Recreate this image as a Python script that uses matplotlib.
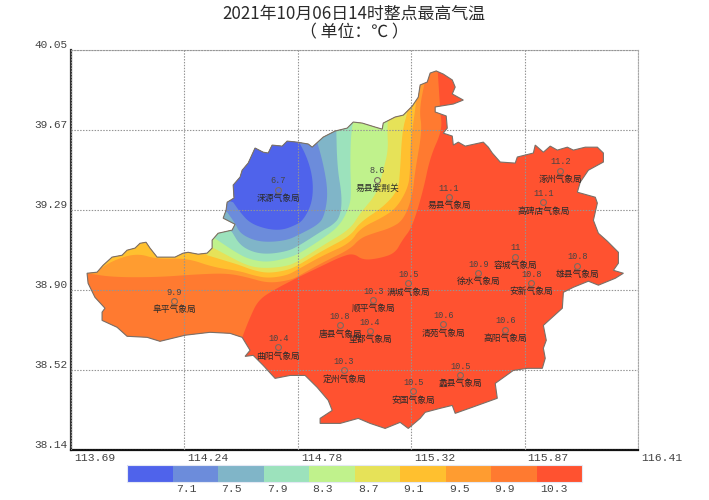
import numpy as np
import matplotlib
matplotlib.use("Agg")
import matplotlib.pyplot as plt
from matplotlib.colors import ListedColormap, BoundaryNorm
from matplotlib.cm import ScalarMappable
from matplotlib.patches import Polygon
from matplotlib.transforms import ScaledTranslation

CJK = ['Noto Sans CJK SC', 'DejaVu Sans']
plt.rcParams['font.family'] = CJK

title_line1 = "2021年10月06日14时整点最高气温"
title_line2 = "（ 单位：℃ ）"

lon_ticklabels = ["113.69", "114.24", "114.78", "115.32", "115.87", "116.41"]
lat_ticklabels = ["38.14", "38.52", "38.90", "39.29", "39.67", "40.05"]

levels = [6.7, 7.1, 7.5, 7.9, 8.3, 8.7, 9.1, 9.5, 9.9, 10.3, 10.7]
level_labels = ["7.1", "7.5", "7.9", "8.3", "8.7", "9.1", "9.5", "9.9", "10.3"]
colors = ["#4F63EB", "#6C8CDB", "#80B5C8", "#9CE2BC", "#C0F28C",
          "#E6E258", "#FFC02F", "#FF9C30", "#FF7A30", "#FF5230"]

station_names = ["涞源气象局", "易县紫荆关", "易县气象局", "涿州气象局", "高碑店气象局",
                 "容城气象局", "雄县气象局", "徐水气象局", "安新气象局", "满城气象局",
                 "顺平气象局", "唐县气象局", "望都气象局", "清苑气象局", "高阳气象局",
                 "曲阳气象局", "定州气象局", "蠡县气象局", "安国气象局", "阜平气象局"]
station_temp = ["6.7", "8.6", "11.1", "11.2", "11.1", "11", "10.8", "10.9", "10.8", "10.5",
                "10.3", "10.8", "10.4", "10.6", "10.6", "10.4", "10.3", "10.5", "10.5", "9.9"]
station_lon = [114.684, 115.159, 115.504, 116.037, 115.956, 115.821, 116.119, 115.644, 115.898, 115.308,
               115.140, 114.981, 115.125, 115.476, 115.773, 114.684, 115.000, 115.557, 115.332, 114.184]
station_lat = [39.381, 39.429, 39.347, 39.472, 39.323, 39.061, 39.018, 38.984, 38.936, 38.936,
               38.855, 38.735, 38.707, 38.740, 38.712, 38.630, 38.520, 38.496, 38.420, 38.850]

outline_lon = [113.767,113.815,113.844,113.887,113.935,113.959,113.997,114.021,114.050,114.069,
    114.103,114.151,114.189,114.228,114.252,114.300,114.343,114.367,114.367,114.396,
    114.463,114.477,114.420,114.434,114.439,114.472,114.468,114.501,114.511,114.540,
    114.573,114.612,114.636,114.655,114.703,114.727,114.775,114.828,114.847,114.900,
    114.957,115.015,115.044,115.087,115.149,115.183,115.188,115.245,115.284,115.327,
    115.356,115.365,115.399,115.413,115.442,115.476,115.519,115.533,115.519,115.572,
    115.524,115.437,115.437,115.490,115.495,115.476,115.519,115.524,115.548,115.581,
    115.668,115.692,115.711,115.749,115.821,115.831,115.908,115.917,115.956,115.989,
    116.023,116.071,116.100,116.157,116.215,116.244,116.244,116.172,116.133,116.119,
    116.205,116.215,116.196,116.220,116.263,116.316,116.316,116.292,116.340,116.301,
    116.220,116.172,116.100,116.052,116.047,115.956,115.970,115.956,115.965,115.951,
    115.879,115.812,115.725,115.735,115.668,115.615,115.533,115.519,115.461,115.389,
    115.365,115.308,115.269,115.197,115.125,115.068,114.981,114.885,114.885,114.943,
    114.924,114.871,114.813,114.741,114.669,114.612,114.564,114.525,114.549,114.511,
    114.453,114.357,114.237,114.117,114.055,113.959,113.911,113.839,113.839,113.853,
    113.805,113.772]
outline_lat = [38.984,38.989,39.022,39.061,39.070,39.094,39.104,39.127,39.132,39.104,
    39.061,39.061,39.061,39.080,39.084,39.075,39.080,39.104,39.142,39.175,
    39.190,39.218,39.247,39.285,39.323,39.343,39.405,39.443,39.476,39.510,
    39.582,39.562,39.558,39.596,39.591,39.615,39.610,39.601,39.586,39.634,
    39.663,39.677,39.706,39.701,39.682,39.672,39.701,39.730,39.739,39.782,
    39.825,39.883,39.897,39.940,39.950,39.935,39.907,39.873,39.840,39.811,
    39.792,39.778,39.754,39.735,39.677,39.653,39.639,39.596,39.610,39.591,
    39.610,39.586,39.558,39.515,39.510,39.539,39.558,39.596,39.562,39.591,
    39.572,39.586,39.572,39.586,39.586,39.558,39.515,39.476,39.419,39.371,
    39.347,39.319,39.237,39.175,39.137,39.084,39.032,38.998,38.984,38.960,
    38.927,38.946,38.917,38.893,38.817,38.735,38.664,38.626,38.578,38.530,
    38.530,38.520,38.458,38.387,38.363,38.344,38.315,38.353,38.339,38.320,
    38.291,38.243,38.272,38.243,38.267,38.291,38.267,38.267,38.291,38.329,
    38.377,38.439,38.496,38.496,38.482,38.544,38.592,38.587,38.616,38.678,
    38.697,38.702,38.688,38.659,38.678,38.683,38.726,38.759,38.798,38.817,
    38.869,38.936]

# Isotherm curves, each followed by the points that close its cold side
iso_103_lon = [115.447,115.452,115.461,115.471,115.413,115.380,115.327,115.279,115.245,115.173,115.092,115.044,114.981,114.900,114.780,114.660,114.588,114.549,114.511,114.501]
iso_103_lat = [39.978,39.907,39.763,39.668,39.539,39.381,39.204,39.142,39.080,39.056,39.046,39.080,39.061,39.022,38.965,38.903,38.855,38.774,38.678,38.640]
iso_103_close = [(113.733, 38.640), (113.733, 39.978)]

iso_99_lon = [115.389,115.360,115.375,115.341,115.327,115.284,115.221,115.140,115.077,115.029,114.900,114.780,114.741,114.636,114.535,114.439,114.295,114.103,113.892,113.767,113.733]
iso_99_lat = [39.907,39.763,39.668,39.476,39.347,39.237,39.199,39.175,39.151,39.099,39.037,38.970,38.951,38.936,38.965,38.984,38.979,38.965,38.965,38.984,38.984]
iso_99_close = [(113.733, 39.978)]

iso_95_lon = [115.351,115.341,115.327,115.317,115.317,115.308,115.255,115.188,115.077,115.029,114.900,114.780,114.727,114.636,114.564,114.501,114.372,114.247,114.103,114.007,113.892,113.805,113.757]
iso_95_lat = [39.859,39.763,39.668,39.572,39.476,39.395,39.300,39.252,39.199,39.127,39.070,39.003,38.974,38.960,38.974,38.994,39.013,39.056,39.051,39.080,39.046,38.989,38.989]
iso_95_close = [(113.757, 39.978)]

iso_91_lon = [115.293,115.308,115.279,115.269,115.260,115.188,115.077,115.029,114.900,114.780,114.727,114.636,114.564,114.501,114.453,114.343]
iso_91_lat = [39.811,39.763,39.668,39.476,39.381,39.300,39.228,39.161,39.094,39.022,38.998,38.984,38.998,39.022,39.037,39.070]
iso_91_close = [(114.285, 39.142), (114.285, 39.811)]

iso_87_lon = [115.212,115.207,115.212,115.188,115.159,115.077,115.029,114.900,114.780,114.727,114.636,114.564,114.501,114.439,114.367]
iso_87_lat = [39.739,39.668,39.572,39.476,39.366,39.271,39.194,39.118,39.041,39.018,39.008,39.013,39.037,39.070,39.108]
iso_87_close = [(114.309, 39.142), (114.309, 39.811)]

iso_83_lon = [115.053,115.034,115.029,115.034,115.029,114.981,114.900,114.780,114.727,114.636,114.564,114.501,114.372]
iso_83_lat = [39.739,39.668,39.510,39.381,39.309,39.213,39.151,39.075,39.056,39.037,39.046,39.070,39.156]
iso_83_close = [(114.333, 39.190), (114.333, 39.811)]

iso_79_lon = [114.962,114.967,114.991,114.981,114.943,114.900,114.780,114.727,114.636,114.564,114.501,114.463]
iso_79_lat = [39.691,39.491,39.347,39.252,39.213,39.190,39.113,39.089,39.075,39.084,39.118,39.180]
iso_79_close = [(114.357, 39.261), (114.357, 39.763)]

iso_75_lon = [114.861,114.900,114.924,114.904,114.871,114.780,114.727,114.636,114.564,114.501,114.477,114.439]
iso_75_lat = [39.644,39.510,39.366,39.252,39.213,39.166,39.142,39.132,39.142,39.175,39.223,39.276]
iso_75_close = [(114.333, 39.309), (114.333, 39.715)]

iso_71_lon = [114.765,114.823,114.852,114.847,114.804,114.765,114.703,114.631,114.549,114.501,114.468]
iso_71_lat = [39.644,39.539,39.429,39.319,39.237,39.213,39.190,39.194,39.223,39.276,39.323]
iso_71_close = [(114.357, 39.357), (114.357, 39.691), (114.693, 39.691)]

isotherms = [
    (iso_103_lon, iso_103_lat, iso_103_close, colors[8]),
    (iso_99_lon, iso_99_lat, iso_99_close, colors[7]),
    (iso_95_lon, iso_95_lat, iso_95_close, colors[6]),
    (iso_91_lon, iso_91_lat, iso_91_close, colors[5]),
    (iso_87_lon, iso_87_lat, iso_87_close, colors[4]),
    (iso_83_lon, iso_83_lat, iso_83_close, colors[3]),
    (iso_79_lon, iso_79_lat, iso_79_close, colors[2]),
    (iso_75_lon, iso_75_lat, iso_75_close, colors[1]),
    (iso_71_lon, iso_71_lat, iso_71_close, colors[0]),
]


def rounded(xs, ys, passes=3):
    p = np.column_stack([xs, ys])
    for _ in range(passes):
        q = 0.75 * p[:-1] + 0.25 * p[1:]
        r = 0.25 * p[:-1] + 0.75 * p[1:]
        mid = np.empty((len(q) * 2, 2))
        mid[0::2], mid[1::2] = q, r
        p = np.vstack([p[0], mid, p[-1]])
    return p


W, H = 709, 500
fig = plt.figure(figsize=(W / 100, H / 100), dpi=100, facecolor="white")
ax = fig.add_axes([71 / W, 1 - 450 / H, 567 / W, 400 / H])
ax.set_xlim(113.69, 116.41)
ax.set_ylim(38.14, 40.05)

region = Polygon(np.column_stack([outline_lon, outline_lat]), closed=True,
                 facecolor=colors[9], edgecolor="none", zorder=1)
ax.add_patch(region)

for xs, ys, closing, col in isotherms:
    curve = rounded(xs, ys)
    band = Polygon(np.vstack([curve, closing]), closed=True, facecolor=col,
                   edgecolor="none", zorder=2)
    ax.add_patch(band)
    band.set_clip_path(region)

ax.add_patch(Polygon(np.column_stack([outline_lon, outline_lat]), closed=True,
                     facecolor="none", edgecolor="#7A7068", linewidth=0.8, zorder=3))

# ticks and grid
ax.set_xticks(np.linspace(113.69, 116.41, 6))
ax.set_xticklabels(lon_ticklabels, ha="left", family=["Liberation Mono"], fontsize=8.2, color="#444444")
ax.set_yticks(np.linspace(38.14, 40.05, 6))
ax.set_yticklabels(lat_ticklabels, va="bottom", family=["Liberation Mono"], fontsize=8.0, color="#444444")
ax.tick_params(length=0, pad=2.5)
shift = ScaledTranslation(3 / 100, 0, fig.dpi_scale_trans)
for lab in ax.get_xticklabels():
    lab.set_transform(lab.get_transform() + shift)
ax.grid(True, color="#949494", linestyle=(0, (1.3, 1.3)), linewidth=0.8, zorder=4)
ax.set_axisbelow(False)
for side in ("top", "right"):
    ax.spines[side].set(color="#A8A8A8", linestyle=(0, (1.3, 1.3)), linewidth=0.8)
ax.spines["left"].set(color="#333333", linewidth=1.6)
ax.spines["bottom"].set(color="#111111", linewidth=1.6)

# stations
ax.plot(station_lon, station_lat, linestyle="none", marker="o", markersize=4.2,
        markerfacecolor="none", markeredgecolor="#7A6A60", markeredgewidth=0.8, zorder=5)
for name, temp, x, y in zip(station_names, station_temp, station_lon, station_lat):
    ax.annotate(temp, (x, y), xytext=(0, 3.4), textcoords="offset points", ha="center", va="bottom",
                family=["Liberation Mono"], fontsize=6.2, color="#444444", zorder=6)
    ax.annotate(name, (x, y), xytext=(0, -3.0), textcoords="offset points", ha="center", va="top",
                fontsize=6.3, color="#2B2B2B", zorder=6)

fig.text(354 / W, 1 - 14 / H, title_line1, ha="center", va="center", fontsize=12.2, color="#2A2A2A")
fig.text(354 / W, 1 - 32 / H, title_line2, ha="center", va="center", fontsize=12.2, color="#2A2A2A")

# colour bar
cax = fig.add_axes([127 / W, 1 - 482 / H, 455 / W, 17 / H])
cmap = ListedColormap(colors)
norm = BoundaryNorm(levels, cmap.N)
cb = fig.colorbar(ScalarMappable(norm=norm, cmap=cmap), cax=cax, orientation="horizontal",
                  ticks=levels[1:-1], spacing="uniform", drawedges=False)
cb.minorticks_off()
cb.outline.set_edgecolor("#E4E8F4")
cb.outline.set_linewidth(0.8)
cb.set_ticklabels(level_labels)
cax.tick_params(length=0, which="both", pad=1.5)
for lab in cax.get_xticklabels():
    lab.set(ha="left", family=["Liberation Mono"], fontsize=8.2, color="#444444")
    lab.set_transform(lab.get_transform() + ScaledTranslation(3.5 / 100, 0, fig.dpi_scale_trans))

fig.savefig("out.png", dpi=100)
